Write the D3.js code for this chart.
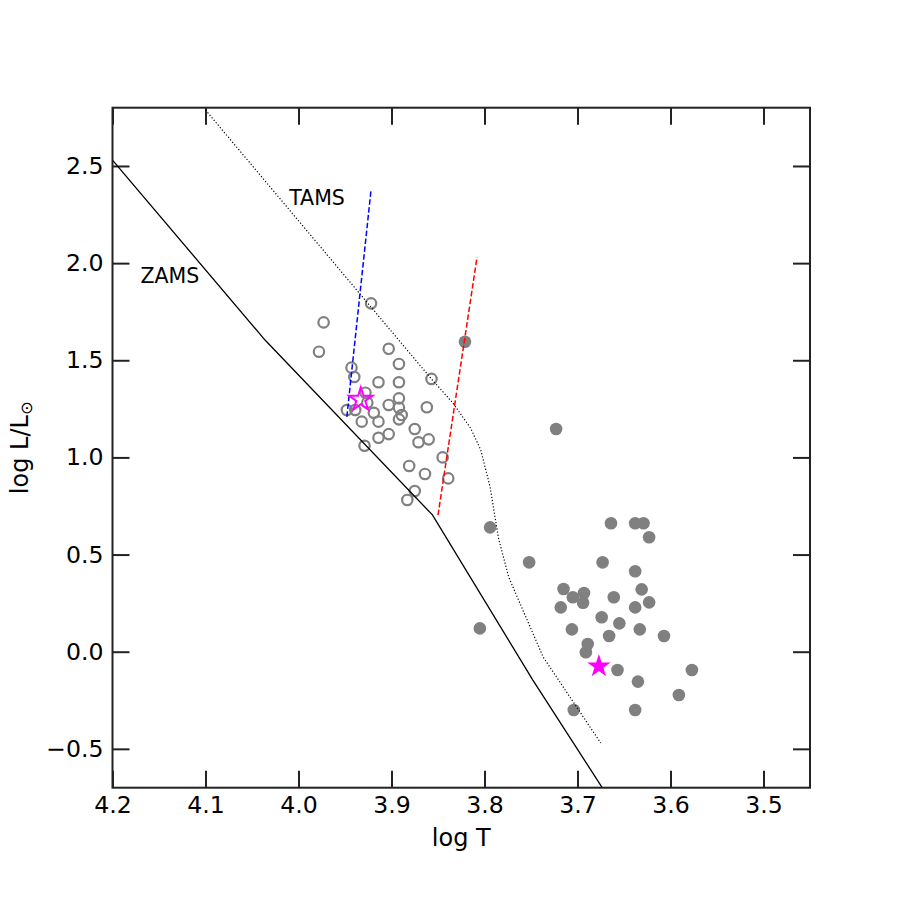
<!DOCTYPE html>
<html>
<head>
<meta charset="utf-8">
<script src="https://cdn.jsdelivr.net/npm/d3@7"></script>
<style>
  body { margin: 0; background: #fff; }
  text { font-family: "DejaVu Sans", sans-serif; fill: #000; }
</style>
</head>
<body>
<div id="chart"></div>
<script>
// open circles: hotter sample, [log T, log L]
const openStars = [
  [3.922, 1.793], [3.973, 1.695], [3.978, 1.544], [3.903, 1.559], [3.892, 1.481],
  [3.943, 1.462], [3.940, 1.414], [3.914, 1.387], [3.892, 1.387], [3.857, 1.404],
  [3.928, 1.333], [3.926, 1.282], [3.948, 1.244], [3.939, 1.244], [3.919, 1.230],
  [3.903, 1.270], [3.892, 1.304], [3.892, 1.256], [3.862, 1.258], [3.889, 1.218],
  [3.892, 1.196], [3.932, 1.184], [3.914, 1.184], [3.875, 1.146], [3.903, 1.120],
  [3.914, 1.101], [3.860, 1.093], [3.871, 1.078], [3.929, 1.060], [3.845, 1.000],
  [3.881, 0.956], [3.864, 0.915], [3.839, 0.892], [3.875, 0.827], [3.883, 0.781]
];

// filled circles: cooler sample
const filledStars = [
  [3.821, 1.595], [3.723, 1.146], [3.794, 0.640], [3.664, 0.661], [3.638, 0.661],
  [3.629, 0.661], [3.623, 0.589], [3.752, 0.460], [3.673, 0.460], [3.638, 0.414],
  [3.715, 0.323], [3.705, 0.280], [3.693, 0.302], [3.694, 0.252], [3.718, 0.228],
  [3.661, 0.280], [3.631, 0.321], [3.638, 0.228], [3.623, 0.254], [3.674, 0.177],
  [3.655, 0.146], [3.706, 0.115], [3.666, 0.081], [3.633, 0.115], [3.607, 0.081],
  [3.689, 0.040], [3.691, -0.003], [3.657, -0.094], [3.577, -0.094], [3.635, -0.154],
  [3.591, -0.223], [3.704, -0.300], [3.638, -0.300], [3.805, 0.120]
];

const openTarget = [3.933, 1.298];
const filledTarget = [3.677, -0.075];

const zams = [[4.2, 2.53], [4.036, 1.604], [3.856, 0.704], [3.748, -0.146], [3.668, -0.74]];
const tams = [
  [4.100, 2.788], [3.858, 1.409], [3.834, 1.280], [3.815, 1.151], [3.804, 1.038],
  [3.794, 0.848], [3.785, 0.585], [3.774, 0.384], [3.737, -0.027], [3.675, -0.470]
];
const blueEdge = [[3.948, 1.209], [3.922, 2.376]];
const redEdge = [[3.850, 0.703], [3.808, 2.031]];

const trackLabels = [
  { text: "TAMS", T: 4.01, L: 2.30 },
  { text: "ZAMS", T: 4.17, L: 1.90 }
];

const xTicks = [4.2, 4.1, 4.0, 3.9, 3.8, 3.7, 3.6, 3.5];
const yTicks = [-0.5, 0.0, 0.5, 1.0, 1.5, 2.0, 2.5];

const width = 900, height = 900;
const margin = { top: 107.7, right: 90, bottom: 112.3, left: 112.5 };
const w = width - margin.left - margin.right;
const h = height - margin.top - margin.bottom;

const svg = d3.select("#chart").append("svg")
  .attr("width", width)
  .attr("height", height);

const g = svg.append("g")
  .attr("transform", `translate(${margin.left},${margin.top})`);

const x = d3.scaleLinear().domain([4.2, 3.45]).range([0, w]);
const y = d3.scaleLinear().domain([-0.7, 2.8]).range([h, 0]);

g.append("clipPath").attr("id", "plot-clip")
  .append("rect").attr("width", w).attr("height", h);

const fmt = d => d3.format(".1f")(d).replace("-", "\u2212");
const tickLen = 17;

function styleAxis(sel) {
  sel.select(".domain").remove();
  sel.selectAll(".tick line").attr("stroke", "#222").attr("stroke-width", 2);
  sel.selectAll(".tick text").attr("font-size", "23.6px").attr("fill", "#000")
    .style("font-family", "'DejaVu Sans', sans-serif");
}

g.append("g").attr("transform", `translate(0,${h})`)
  .call(d3.axisBottom(x).tickValues(xTicks).tickFormat(fmt).tickSize(-tickLen).tickPadding(9))
  .call(styleAxis);
g.append("g")
  .call(d3.axisTop(x).tickValues(xTicks).tickFormat("").tickSize(-tickLen))
  .call(styleAxis);
g.append("g")
  .call(d3.axisLeft(y).tickValues(yTicks).tickFormat(fmt).tickSize(-tickLen).tickPadding(9))
  .call(styleAxis);
g.append("g").attr("transform", `translate(${w},0)`)
  .call(d3.axisRight(y).tickValues(yTicks).tickFormat("").tickSize(-tickLen))
  .call(styleAxis);

const plot = g.append("g").attr("clip-path", "url(#plot-clip)");

plot.selectAll("circle.open")
  .data(openStars)
  .join("circle")
  .attr("class", "open")
  .attr("cx", d => x(d[0]))
  .attr("cy", d => y(d[1]))
  .attr("r", 5.2)
  .attr("fill", "none")
  .attr("stroke", "#808080")
  .attr("stroke-width", 2.2);

plot.selectAll("circle.filled")
  .data(filledStars)
  .join("circle")
  .attr("class", "filled")
  .attr("cx", d => x(d[0]))
  .attr("cy", d => y(d[1]))
  .attr("r", 6.3)
  .attr("fill", "#808080");

const line = d3.line().x(d => x(d[0])).y(d => y(d[1]));

plot.append("path").datum(zams).attr("d", line)
  .attr("fill", "none").attr("stroke", "#000").attr("stroke-width", 1.3);
plot.append("path").datum(tams).attr("d", line)
  .attr("fill", "none").attr("stroke", "#000").attr("stroke-width", 1.2)
  .attr("stroke-dasharray", "1.2,2");
plot.append("path").datum(blueEdge).attr("d", line)
  .attr("fill", "none").attr("stroke", "#0000ff").attr("stroke-width", 1.5)
  .attr("stroke-dasharray", "5.5,2.4");
plot.append("path").datum(redEdge).attr("d", line)
  .attr("fill", "none").attr("stroke", "#ff0000").attr("stroke-width", 1.5)
  .attr("stroke-dasharray", "5.5,2.4");

const star = d3.symbol().type(d3.symbolStar).size(170);

plot.append("path")
  .attr("d", star)
  .attr("transform", `translate(${x(openTarget[0])},${y(openTarget[1])})`)
  .attr("fill", "none")
  .attr("stroke", "#ff00ff")
  .attr("stroke-width", 2);

plot.append("path")
  .attr("d", star)
  .attr("transform", `translate(${x(filledTarget[0])},${y(filledTarget[1])})`)
  .attr("fill", "#ff00ff");

g.selectAll("text.track")
  .data(trackLabels)
  .join("text")
  .attr("class", "track")
  .attr("x", d => x(d.T))
  .attr("y", d => y(d.L))
  .attr("font-size", "20.5px")
  .text(d => d.text);

// frame
g.append("rect")
  .attr("width", w).attr("height", h)
  .attr("fill", "none").attr("stroke", "#222").attr("stroke-width", 2);

g.append("text")
  .attr("x", w / 2)
  .attr("y", 845.7 - margin.top)
  .attr("text-anchor", "middle")
  .attr("font-size", "24px")
  .text("log T");

const ylab = svg.append("text")
  .attr("transform", `translate(28.3,${margin.top + h / 2}) rotate(-90)`)
  .attr("text-anchor", "middle")
  .attr("font-size", "24px");
ylab.append("tspan").text("log L/L");
ylab.append("tspan").attr("font-size", "16.5px").attr("dy", 4).text("\u2299");
</script>
</body>
</html>
